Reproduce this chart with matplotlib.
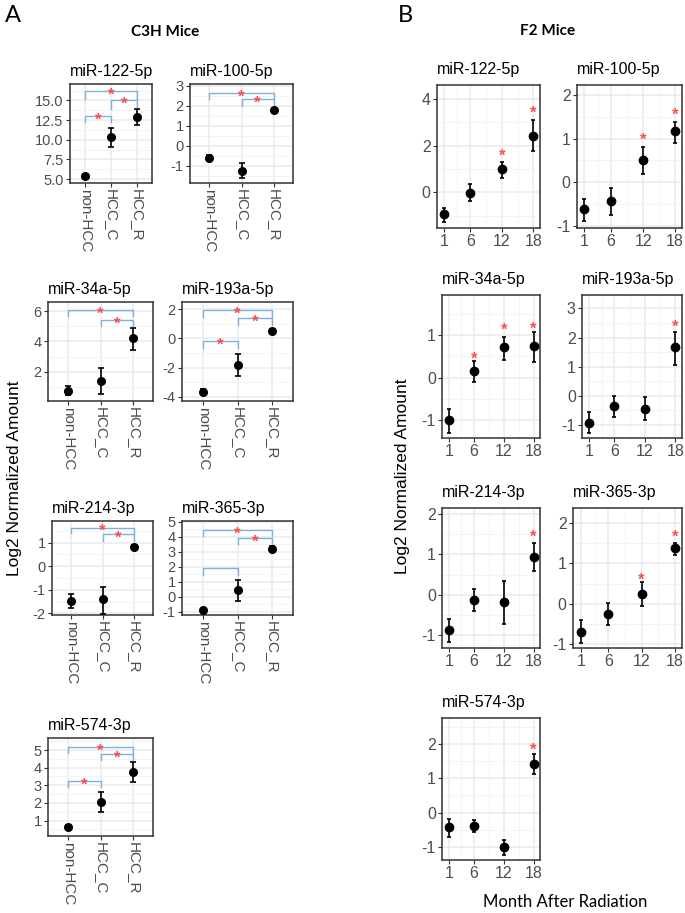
import numpy as np
import matplotlib
matplotlib.use('Agg')
import matplotlib.pyplot as plt

plt.rcParams['font.family'] = ['Liberation Sans', 'DejaVu Sans']
plt.rcParams['axes.unicode_minus'] = False

# ---- C3H mice (panel A) ----
groups = ['non-HCC', 'HCC_C', 'HCC_R']
c3h_names = ['miR-122-5p', 'miR-100-5p', 'miR-34a-5p', 'miR-193a-5p',
             'miR-214-3p', 'miR-365-3p', 'miR-574-3p']
c3h_mean = [[5.35, 10.3, 12.95], [-0.62, -1.27, 1.78], [0.75, 1.39, 4.2],
            [-3.66, -1.8, 0.5], [-1.47, -1.37, 0.82], [-0.91, 0.45, 3.2],
            [0.66, 2.05, 3.75]]
c3h_lo = [[5.1, 9.1, 11.9], [-0.78, -1.62, 1.68], [0.45, 0.51, 3.43],
          [-3.85, -2.56, 0.35], [-1.76, -2.03, 0.72], [-1.0, -0.28, 3.02],
          [0.55, 1.47, 3.2]]
c3h_hi = [[5.6, 11.5, 13.9], [-0.46, -0.88, 1.88], [1.05, 2.26, 4.9],
          [-3.5, -1.09, 0.65], [-1.18, -0.88, 0.92], [-0.8, 1.13, 3.38],
          [0.78, 2.62, 4.32]]
c3h_ylim = [(4.5, 17.1), (-1.87, 3.08), (0.07, 6.6), (-4.3, 2.5),
            (-2.07, 1.92), (-1.22, 5.05), (0.13, 5.68)]
c3h_yticks = [[5, 7.5, 10, 12.5, 15], [-1, 0, 1, 2, 3], [2, 4, 6],
              [-4, -2, 0, 2], [-2, -1, 0, 1], [-1, 0, 1, 2, 3, 4, 5],
              [1, 2, 3, 4, 5]]
c3h_ytlab = [['5.0', '7.5', '10.0', '12.5', '15.0'], None, None, None,
             None, None, None]
# comparisons: (group a, group b, bracket level, tip level, significant)
c3h_brackets = [
    [(0, 2, 16.2, 15.2, True), (1, 2, 15.0, 13.9, True), (0, 1, 13.0, 12.2, True)],
    [(0, 2, 2.64, 2.34, True), (1, 2, 2.33, 2.0, True)],
    [(0, 2, 6.07, 5.7, True), (1, 2, 5.4, 5.0, True)],
    [(0, 2, 1.93, 1.49, True), (1, 2, 1.38, 0.92, True), (0, 1, -0.16, -0.64, True)],
    [(0, 2, 1.64, 1.40, True), (1, 2, 1.36, 1.07, True)],
    [(0, 2, 4.45, 4.05, True), (1, 2, 3.94, 3.5, True), (0, 1, 1.92, 1.44, False)],
    [(0, 2, 5.19, 4.85, True), (1, 2, 4.77, 4.43, True), (0, 1, 3.26, 2.88, True)],
]

# ---- F2 mice (panel B) ----
months = [1, 6, 12, 18]
f2_names = c3h_names
f2_mean = [[-0.93, -0.03, 0.98, 2.43], [-0.62, -0.43, 0.51, 1.17],
           [-1.0, 0.16, 0.71, 0.73], [-0.92, -0.34, -0.44, 1.66],
           [-0.88, -0.12, -0.18, 0.93], [-0.7, -0.25, 0.24, 1.37],
           [-0.43, -0.38, -1.02, 1.42]]
f2_lo = [[-1.26, -0.37, 0.6, 1.77], [-0.9, -0.76, 0.2, 0.91],
         [-1.3, -0.11, 0.41, 0.37], [-1.27, -0.74, -0.83, 1.07],
         [-1.18, -0.4, -0.72, 0.59], [-0.97, -0.52, -0.05, 1.21],
         [-0.72, -0.56, -1.24, 1.13]]
f2_hi = [[-0.69, 0.34, 1.31, 3.1], [-0.38, -0.13, 0.8, 1.39],
         [-0.73, 0.39, 0.95, 1.06], [-0.56, 0.0, -0.03, 2.2],
         [-0.6, 0.14, 0.33, 1.28], [-0.41, 0.03, 0.53, 1.5],
         [-0.2, -0.23, -0.8, 1.72]]
f2_star_month = [[12, 18], [12, 18], [6, 12, 18], [18], [18], [12, 18], [18]]
f2_star_y = [[1.74, 3.56], [1.06, 1.64], [0.53, 1.2, 1.24], [2.48], [1.52],
             [0.69, 1.76], [1.95]]
f2_ylim = [(-1.53, 4.6), (-1.05, 2.23), (-1.42, 1.94), (-1.45, 3.46),
           (-1.32, 2.15), (-1.09, 2.37), (-1.39, 2.77)]
f2_yticks = [[0, 2, 4], [-1, 0, 1, 2], [-1, 0, 1], [-1, 0, 1, 2, 3],
             [-1, 0, 1, 2], [-1, 0, 1, 2], [-1, 0, 1, 2]]

W, H = 685, 913
fig = plt.figure(figsize=(W / 100, H / 100), dpi=100)


def add_ax(l, t, r, b):
    return fig.add_axes([l / W, 1 - b / H, (r - l) / W, (b - t) / H])


def style(ax, size):
    ax.set_facecolor('white')
    for s in ax.spines.values():
        s.set_color('#333333')
        s.set_linewidth(1.1)
    ax.grid(True, which='major', color='#EBEBEB', lw=1.1, zorder=0)
    ax.grid(True, which='minor', color='#F2F2F2', lw=0.6, zorder=0)
    ax.set_axisbelow(True)
    ax.tick_params(which='major', length=3, width=0.8, color='#333333',
                   labelcolor='#4D4D4D', labelsize=size, pad=1.5)
    ax.tick_params(which='minor', length=0)


# panel A positions (left, top, right, bottom) in pixels
a_boxes = [(70, 84, 152, 183), (190, 84, 293, 183), (48, 302, 153, 401),
           (182, 302, 293, 401), (52, 521, 153, 615), (182, 521, 293, 615),
           (48, 738, 153, 836)]
for i, box in enumerate(a_boxes):
    ax = add_ax(*box)
    style(ax, 10.5)
    x = np.arange(len(groups))
    m = np.array(c3h_mean[i])
    err = [m - np.array(c3h_lo[i]), np.array(c3h_hi[i]) - m]
    ax.errorbar(x, m, yerr=err, fmt='o', color='black', ms=5.5,
                elinewidth=1.2, capsize=2.5, capthick=1.2, zorder=3)
    ax.set_xlim(-0.6, 2.6)
    ax.set_ylim(*c3h_ylim[i])
    ax.set_xticks(x)
    ax.set_xticklabels(groups, rotation=-90, va='top', fontsize=11)
    ax.set_yticks(c3h_yticks[i])
    if c3h_ytlab[i]:
        ax.set_yticklabels(c3h_ytlab[i])
    yt = c3h_yticks[i]
    ax.set_yticks([(a + b) / 2 for a, b in zip(yt[:-1], yt[1:])] +
                  [yt[0] - (yt[1] - yt[0]) / 2, yt[-1] + (yt[1] - yt[0]) / 2],
                  minor=True)
    ax.set_ylim(*c3h_ylim[i])
    for (g1, g2, yl, ytip, sig) in c3h_brackets[i]:
        ax.plot([g1, g1, g2, g2], [ytip, yl, yl, ytip], color='#7EB0DD',
                lw=1.0, zorder=2)
        if sig:
            ax.annotate('*', ((g1 + g2) / 2, yl), xytext=(0, -3),
                        textcoords='offset points', ha='center', va='center',
                        color='#FF4D4D', fontsize=12, fontweight='bold')
    ax.set_title(c3h_names[i], loc='left', fontsize=11.5, pad=6)

# panel B positions
b_boxes = [(437, 85, 540, 228), (577, 85, 682, 228), (442, 295, 540, 438),
           (582, 295, 682, 438), (442, 508, 540, 648), (573, 508, 682, 648),
           (442, 718, 540, 860)]
for i, box in enumerate(b_boxes):
    ax = add_ax(*box)
    style(ax, 11.5)
    m = np.array(f2_mean[i])
    err = [m - np.array(f2_lo[i]), np.array(f2_hi[i]) - m]
    ax.errorbar(months, m, yerr=err, fmt='o', color='black', ms=6,
                elinewidth=1.2, capsize=1.2, capthick=1.2, zorder=3)
    for mo, sy in zip(f2_star_month[i], f2_star_y[i]):
        ax.annotate('*', (mo, sy), xytext=(0, -3), textcoords='offset points',
                    ha='center', va='center', color='#FF4D4D', fontsize=12,
                    fontweight='bold')
    ax.set_xlim(-0.4, 19.3)
    ax.set_xticks(months)
    ax.set_xticks([3.5, 9, 15], minor=True)
    yt = f2_yticks[i]
    ax.set_yticks(yt)
    ax.set_yticks([(a + b) / 2 for a, b in zip(yt[:-1], yt[1:])] +
                  [yt[0] - 0.5 * (yt[1] - yt[0]), yt[-1] + 0.5 * (yt[1] - yt[0])],
                  minor=True)
    ax.set_ylim(*f2_ylim[i])
    ax.set_title(f2_names[i], loc='left', fontsize=11.5, pad=8)

fig.text(15 / W, 1 - 478 / H, 'Log2 Normalized Amount', rotation=90,
         ha='center', va='center', fontsize=12.5)
fig.text(403 / W, 1 - 476 / H, 'Log2 Normalized Amount', rotation=90,
         ha='center', va='center', fontsize=12.5)
fig.text(565 / W, 1 - 902 / H, 'Month After Radiation', ha='center',
         va='center', fontsize=12, family='Lato')
fig.text(165 / W, 1 - 32 / H, 'C3H Mice', ha='center', va='center',
         fontsize=11, fontweight='bold', family='Lato')
fig.text(548 / W, 1 - 31 / H, 'F2 Mice', ha='center', va='center',
         fontsize=11, fontweight='bold', family='Lato')
fig.text(5 / W, 1 - 15 / H, 'A', ha='left', va='center', fontsize=17,
         family='Lato')
fig.text(398 / W, 1 - 15 / H, 'B', ha='left', va='center', fontsize=17,
         family='Lato')

fig.savefig('out.png', dpi=100, facecolor='white')
